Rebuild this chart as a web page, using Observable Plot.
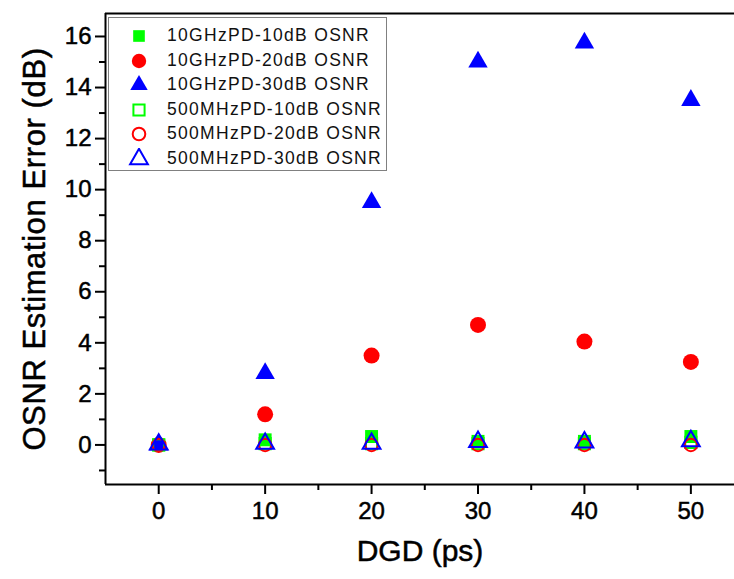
<!DOCTYPE html>
<html>
<head>
<meta charset="utf-8">
<script src="https://cdn.jsdelivr.net/npm/d3@7"></script>
<script src="https://cdn.jsdelivr.net/npm/@observablehq/plot@0.6"></script>
<style>
  html, body { margin: 0; padding: 0; background: #fff; }
  #wrap { position: relative; width: 734px; height: 579px; overflow: hidden; font-family: "Liberation Sans", Arial, sans-serif; }
  #wrap svg.plot { position: absolute; left: 0; top: 0; }
  #wrap svg.plot g[aria-label$="axis tick label"] text,
  #wrap svg.plot g[aria-label$="axis label"] text { stroke: #000; stroke-width: 0.5px; paint-order: stroke; }
  #legend { position: absolute; left: 108px; top: 17px; width: 279px; height: 154px; border: 1px solid #808080; box-sizing: border-box; background: #fff; }
  .row { position: absolute; left: 0; height: 24px; }
  .row svg { position: absolute; left: 19px; top: 1px; }
  .row span { position: absolute; left: 58px; top: 1px; font-size: 17.5px; letter-spacing: 1.3px; color: #111; white-space: nowrap; line-height: 20px; }
</style>
</head>
<body>
<div id="wrap"></div>
<script>
// ---- data ----
const dgd = [0, 10, 20, 30, 40, 50];
const ghz10 = [0, 0.2, 0.33, 0.14, 0.14, 0.33];
const ghz20 = [0, 1.2, 3.5, 4.7, 4.05, 3.25];
const ghz30 = [0, 2.8, 9.5, 15.0, 15.75, 13.5];
const mhz10 = [0, 0.05, 0.05, 0.05, 0.05, 0.1];
const mhz20 = [0, 0, 0, 0, 0, 0];
const mhz30 = [0.02, 0.05, 0.05, 0.12, 0.1, 0.15];
const seriesNames = ["10GHzPD-10dB OSNR", "10GHzPD-20dB OSNR", "10GHzPD-30dB OSNR",
                     "500MHzPD-10dB OSNR", "500MHzPD-20dB OSNR", "500MHzPD-30dB OSNR"];
const xTicks = [0, 10, 20, 30, 40, 50];
const xMinor = [5, 15, 25, 35, 45];
const yTicks = [0, 2, 4, 6, 8, 10, 12, 14, 16];
const yMinor = [-1, 1, 3, 5, 7, 9, 11, 13, 15];
const xDomain = [-5, 54.1];
const yDomain = [-1.55, 16.9];

const GREEN = "#00ff00", RED = "#ff0000", BLUE = "#0000ff";
const styles = [
  {symbol: "square",   filled: true,  color: GREEN, r: 7.3},
  {symbol: "circle",   filled: true,  color: RED,   r: 8},
  {symbol: "triangle", filled: true,  color: BLUE,  r: 7.2},
  {symbol: "square",   filled: false, color: GREEN, r: 6.3},
  {symbol: "circle",   filled: false, color: RED,   r: 6.3},
  {symbol: "triangle", filled: false, color: BLUE,  r: 6.6}
];
const allSeries = [ghz10, ghz20, ghz30, mhz10, mhz20, mhz30];

const toRows = vals => dgd.map((x, i) => ({x, y: vals[i]}));

const dotMarks = allSeries.map((vals, k) => {
  const s = styles[k];
  return Plot.dot(toRows(vals), {
    x: "x", y: "y", symbol: s.symbol, r: s.r,
    fill: s.filled ? s.color : "none",
    stroke: s.filled ? "none" : s.color,
    strokeWidth: s.filled ? 0 : 2
  });
});

const font = "'Liberation Sans', Arial, sans-serif";

const chart = Plot.plot({
  width: 734,
  height: 579,
  marginLeft: 105,
  marginRight: 0,
  marginTop: 13,
  marginBottom: 95,
  style: {fontFamily: font, color: "#000", background: "#fff", overflow: "hidden"},
  x: {domain: xDomain},
  y: {domain: yDomain},
  marks: [
    Plot.axisX({ticks: xTicks, tickSize: 10, tickPadding: 7, fontSize: 24, strokeWidth: 2, stroke: "#000",
                label: "DGD (ps)", labelAnchor: "center", labelOffset: 76, labelArrow: "none"}),
    Plot.axisX({ticks: xMinor, tickSize: 6, text: null, label: null, strokeWidth: 2, stroke: "#000"}),
    Plot.axisY({ticks: yTicks, tickSize: 10, tickPadding: 4, fontSize: 24, strokeWidth: 2, stroke: "#000",
                label: "OSNR Estimation Error (dB)", labelAnchor: "center", labelOffset: 83, labelArrow: "none"}),
    Plot.axisY({ticks: yMinor, tickSize: 6, text: null, label: null, strokeWidth: 2, stroke: "#000"}),
    Plot.ruleY([yDomain[0], yDomain[1]], {stroke: "#000", strokeWidth: 2}),
    Plot.ruleX([xDomain[0]], {stroke: "#000", strokeWidth: 2}),
    ...dotMarks
  ]
});
chart.classList.add("plot");
document.getElementById("wrap").appendChild(chart);

// axis-title styling
chart.querySelectorAll('g[aria-label="x-axis label"] text').forEach(t => {
  t.style.fontSize = "30px";
});
chart.querySelectorAll('g[aria-label="y-axis label"] text').forEach(t => {
  t.style.fontSize = "31px";
  t.style.letterSpacing = "0.6px";
});

// ---- legend (HTML overlay) ----
const legend = document.createElement("div");
legend.id = "legend";
seriesNames.forEach((name, k) => {
  const s = styles[k];
  const row = document.createElement("div");
  row.className = "row";
  row.style.top = (6 + k * 24.5) + "px";
  const size = 22;
  const svg = d3.create("svg").attr("width", size).attr("height", size);
  const sym = {square: d3.symbolSquare, circle: d3.symbolCircle, triangle: d3.symbolTriangle}[s.symbol];
  const rr = s.filled ? s.r * 0.9 : s.r;
  svg.append("path")
    .attr("transform", `translate(${size / 2},${size / 2})`)
    .attr("d", d3.symbol(sym, Math.PI * rr * rr)())
    .attr("fill", s.filled ? s.color : "none")
    .attr("stroke", s.filled ? "none" : s.color)
    .attr("stroke-width", 2);
  row.appendChild(svg.node());
  const span = document.createElement("span");
  span.textContent = name;
  row.appendChild(span);
  legend.appendChild(row);
});
document.getElementById("wrap").appendChild(legend);
</script>
</body>
</html>
